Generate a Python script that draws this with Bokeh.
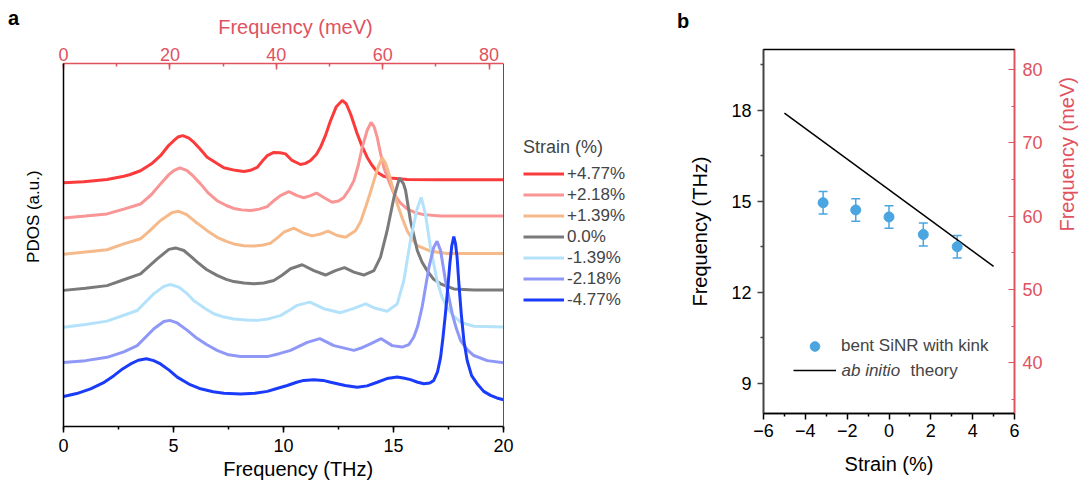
import math
import numpy as np
from bokeh.plotting import figure
from bokeh.models import (Range1d, LinearAxis, FixedTicker, Legend, LegendItem,
                          Label, Whisker, TeeHead, ColumnDataSource, Div, Span)
from bokeh.layouts import row, column
from bokeh.embed import file_html
from bokeh.resources import INLINE

THZ_TO_MEV = 4.1357
FONT = "Liberation Sans"
RED_AXIS = "#e0525e"
PT_BLUE = "#4aa5e0"
NB = "\u00a0"

# ---------------- panel a data ----------------
strain_labels = ["+4.77%", "+2.18%", "+1.39%", "0.0%", "-1.39%", "-2.18%", "-4.77%"]
curve_colors = ["#fb3b3b", "#f99595", "#f5b98a", "#7a7a7a", "#b5e2fb", "#8f98f7", "#1a3cfa"]
stack_offset = [6, 5, 4, 3, 2, 1, 0]

freq_p477 = [0.0, 0.92, 1.98, 2.74, 3.0, 3.5, 4.0, 4.41, 4.75, 5.01, 5.2, 5.42, 5.7, 5.92, 6.2,
             6.53, 7.0, 7.29, 7.8, 8.2, 8.5, 8.8, 9.05, 9.26, 9.56, 9.85, 10.09, 10.39, 10.77,
             11.0, 11.23, 11.5, 11.68, 11.9, 12.14, 12.4, 12.67, 12.85, 13.05, 13.35, 13.55,
             13.8, 14.0, 14.26, 14.55, 14.86, 15.62, 17.0, 20.0]
pdos_p477 = [-0.08, -0.05, 0.01, 0.10, 0.14, 0.25, 0.44, 0.66, 0.92, 1.07, 1.17, 1.21, 1.14, 1.03, 0.85,
             0.62, 0.44, 0.33, 0.26, 0.23, 0.26, 0.34, 0.52, 0.66, 0.75, 0.74, 0.71, 0.53, 0.42,
             0.45, 0.53, 0.70, 0.89, 1.20, 1.62, 2.00, 2.17, 2.08, 1.80, 1.26, 0.95,
             0.62, 0.42, 0.21, 0.10, 0.05, 0.01, 0.0, 0.0]

freq_p218 = [0.0, 1.0, 1.98, 2.74, 3.5, 4.0, 4.41, 4.8, 5.01, 5.29, 5.62, 5.9, 6.23, 6.6, 6.98,
             7.4, 7.74, 8.1, 8.5, 8.9, 9.26, 9.6, 9.86, 10.24, 10.62, 10.92, 11.23, 11.5, 11.83,
             12.21, 12.5, 12.74, 13.0, 13.2, 13.4, 13.58, 13.8, 13.98, 14.12, 14.26, 14.4, 14.56,
             14.8, 15.02, 15.3, 15.62, 16.0, 16.38, 17.14, 20.0]
pdos_p218 = [-0.04, 0.01, 0.07, 0.20, 0.34, 0.60, 0.89, 1.15, 1.25, 1.33, 1.25, 1.10, 0.89, 0.63, 0.43,
             0.30, 0.22, 0.18, 0.16, 0.20, 0.27, 0.45, 0.57, 0.68, 0.57, 0.51, 0.57, 0.64, 0.52,
             0.39, 0.42, 0.52, 0.75, 0.98, 1.40, 1.89, 2.35, 2.57, 2.45, 2.16, 1.75, 1.34,
             0.95, 0.62, 0.38, 0.21, 0.10, 0.05, 0.01, 0.01]

freq_p139 = [0.0, 1.0, 1.98, 2.74, 3.5, 3.9, 4.41, 4.94, 5.24, 5.6, 6.0, 6.23, 6.6, 6.98, 7.4,
             7.74, 8.2, 8.65, 9.0, 9.41, 9.75, 10.02, 10.47, 10.92, 11.3, 11.68, 12.02, 12.44,
             12.82, 13.27, 13.5, 13.73, 13.92, 14.11, 14.3, 14.48, 14.64, 14.79, 14.98, 15.17,
             15.4, 15.62, 15.85, 16.08, 16.68, 17.44, 20.0]
pdos_p139 = [-0.03, 0.03, 0.09, 0.25, 0.39, 0.60, 0.89, 1.11, 1.14, 1.05, 0.85, 0.75, 0.58, 0.43, 0.32,
             0.25, 0.20, 0.19, 0.21, 0.27, 0.43, 0.57, 0.68, 0.54, 0.47, 0.52, 0.60, 0.48,
             0.43, 0.61, 0.85, 1.25, 1.60, 1.98, 2.35, 2.60, 2.45, 2.16, 1.75, 1.34,
             0.95, 0.61, 0.38, 0.20, 0.05, -0.01, -0.01]

freq_0 = [0.0, 1.0, 1.98, 2.74, 3.5, 4.26, 4.79, 5.09, 5.47, 5.8, 6.08, 6.5, 6.98, 7.4, 7.74,
          8.2, 8.65, 9.1, 9.56, 9.95, 10.32, 10.85, 11.38, 11.91, 12.36, 12.77, 13.2, 13.65,
          14.11, 14.41, 14.71, 15.02, 15.27, 15.45, 15.55, 15.77, 16.08, 16.3, 16.53, 16.8,
          17.14, 17.74, 18.65, 20.0]
pdos_0 = [-0.02, 0.04, 0.11, 0.27, 0.43, 0.84, 1.10, 1.14, 1.07, 0.90, 0.75, 0.55, 0.39, 0.28, 0.22,
          0.18, 0.16, 0.18, 0.25, 0.40, 0.57, 0.68, 0.52, 0.40, 0.52, 0.60, 0.48, 0.40,
          0.52, 0.89, 1.61, 2.52, 3.05, 2.90, 2.71, 1.89, 1.07, 0.75, 0.52, 0.30,
          0.16, 0.02, -0.01, -0.01]

freq_m139 = [0.0, 1.0, 1.98, 2.74, 3.35, 4.11, 4.56, 4.86, 5.24, 5.6, 5.92, 6.4, 6.83, 7.3, 7.74,
             8.3, 8.8, 9.3, 9.86, 10.3, 10.62, 11.2, 11.83, 12.59, 13.2, 13.73, 14.18, 14.71,
             15.17, 15.47, 15.77, 16.05, 16.26, 16.45, 16.68, 16.98, 17.2, 17.44, 17.7, 18.05,
             18.65, 20.0]
pdos_m139 = [-0.03, 0.05, 0.14, 0.30, 0.43, 0.89, 1.09, 1.14, 1.07, 0.90, 0.70, 0.50, 0.34, 0.25, 0.20,
             0.17, 0.16, 0.20, 0.29, 0.45, 0.57, 0.66, 0.48, 0.37, 0.49, 0.61, 0.49, 0.41,
             0.61, 1.25, 2.34, 3.16, 3.52, 3.07, 2.16, 1.25, 0.80, 0.52, 0.30, 0.11,
             0.0, -0.02]

freq_m218 = [0.0, 1.0, 1.98, 2.74, 3.35, 4.11, 4.56, 4.83, 5.17, 5.6, 6.0, 6.5, 6.98, 7.5, 8.05,
             9.26, 9.8, 10.32, 10.7, 11.08, 11.65, 12.29, 13.2, 13.6, 13.95, 14.44, 14.94, 15.39,
             15.7, 15.92, 16.1, 16.3, 16.61, 16.83, 16.98, 17.14, 17.36, 17.67, 17.85, 18.05,
             18.35, 18.65, 19.26, 20.0]
pdos_m218 = [0.01, 0.06, 0.15, 0.30, 0.47, 0.93, 1.13, 1.16, 1.09, 0.90, 0.70, 0.50, 0.34, 0.22, 0.17,
             0.17, 0.25, 0.34, 0.45, 0.56, 0.66, 0.47, 0.34, 0.42, 0.52, 0.66, 0.47, 0.43,
             0.50, 0.70, 1.00, 1.52, 2.61, 3.16, 3.32, 3.07, 2.25, 1.34, 0.95, 0.61,
             0.36, 0.20, 0.06, 0.0]

freq_m477 = [0.0, 0.6, 1.23, 1.8, 2.29, 2.7, 3.05, 3.4, 3.77, 4.1, 4.41, 4.8, 5.17, 5.7, 6.23,
             6.8, 7.29, 8.05, 8.7, 9.26, 9.7, 10.17, 10.6, 10.92, 11.38, 11.8, 12.14, 12.8,
             13.35, 13.8, 14.26, 14.7, 15.17, 15.5, 15.77, 16.1, 16.38, 16.65, 16.83, 17.0,
             17.14, 17.25, 17.36, 17.46, 17.56, 17.65, 17.74, 17.82, 17.89, 17.98, 18.08, 18.2,
             18.35, 18.55, 18.8, 19.1, 19.41, 19.7, 20.0]
pdos_m477 = [0.08, 0.16, 0.29, 0.45, 0.65, 0.84, 0.97, 1.07, 1.11, 1.06, 0.97, 0.80, 0.61, 0.42, 0.29,
             0.21, 0.17, 0.15, 0.17, 0.22, 0.30, 0.38, 0.47, 0.52, 0.54, 0.52, 0.47, 0.38,
             0.33, 0.37, 0.47, 0.57, 0.61, 0.58, 0.54, 0.47, 0.43, 0.45, 0.52, 0.75,
             1.15, 1.70, 2.34, 3.00, 3.70, 4.20, 4.45, 4.25, 3.89, 3.10, 2.34, 1.60,
             1.06, 0.65, 0.43, 0.22, 0.11, 0.04, -0.01]

curves_freq = [freq_p477, freq_p218, freq_p139, freq_0, freq_m139, freq_m218, freq_m477]
curves_pdos = [pdos_p477, pdos_p218, pdos_p139, pdos_0, pdos_m139, pdos_m218, pdos_m477]

# ---------------- panel b data ----------------
strain_exp = [-3.15, -1.59, 0.0, 1.64, 3.26]
freq_exp = [14.95, 14.71, 14.48, 13.90, 13.50]
freq_err = [0.37, 0.37, 0.37, 0.38, 0.37]
strain_theory = [-5.0, 5.0]
freq_theory = [17.9, 12.85]

H = 482
# panel a frame spans 0..20 THz over 440 px; it is widened to host the legend
A_FRAME_RIGHT_EXTRA = 135  # px beyond 20 THz
X_END = 20.0 * (440 + A_FRAME_RIGHT_EXTRA) / 440.0


def style_axis(ax, color="black", size="18px", tick_in=0, tick_out=6, line_width=1.5):
    ax.axis_line_color = color
    ax.axis_line_width = line_width
    ax.major_tick_line_color = color
    ax.minor_tick_line_color = color
    ax.major_tick_line_width = line_width
    ax.minor_tick_line_width = line_width
    ax.major_tick_in = tick_in
    ax.major_tick_out = tick_out
    ax.minor_tick_in = tick_in // 2
    ax.minor_tick_out = tick_out // 2
    ax.major_label_text_color = color
    ax.major_label_text_font = FONT
    ax.major_label_text_font_size = size
    ax.axis_label_text_font = FONT
    ax.axis_label_text_font_size = "20px"
    ax.axis_label_text_font_style = "normal"
    ax.axis_label_text_color = color


def panel_letter(letter, top, left, height):
    return Div(text=letter, width=12, height=height, margin=(top, 0, 0, left),
               styles={"font-family": FONT, "font-size": "20px", "font-weight": "bold",
                       "line-height": "1", "color": "black"})


# ---------------- panel a ----------------
pa = figure(width=630, height=H, x_range=Range1d(0, X_END), y_range=Range1d(-0.74, 9.18),
            output_backend="svg", toolbar_location=None,
            min_border_left=43, min_border_right=630 - 43 - 440 - A_FRAME_RIGHT_EXTRA,
            min_border_top=63, min_border_bottom=H - 426)
pa.xgrid.visible = False
pa.ygrid.visible = False
pa.outline_line_color = None
pa.extra_x_ranges = {"mev": Range1d(0, X_END * THZ_TO_MEV)}

style_axis(pa.xaxis[0])
pa.xaxis.ticker = FixedTicker(ticks=[0, 5, 10, 15, 20], minor_ticks=[2.5 * i for i in range(9)])
pa.xaxis.bounds = (0, 20)
pa.xaxis.major_label_standoff = 6
pa.xaxis.axis_label = "Frequency (THz)" + NB * 19
pa.xaxis.axis_label_standoff = 3

pa.yaxis.ticker = FixedTicker(ticks=[], minor_ticks=[])
style_axis(pa.yaxis[0], tick_out=0)
pa.yaxis.major_label_standoff = 0
pa.yaxis.axis_label = NB * 12 + "PDOS (a.u.)"
pa.yaxis.axis_label_text_font_size = "17px"
pa.yaxis.axis_label_standoff = 21

top_ax = LinearAxis(x_range_name="mev",
                    ticker=FixedTicker(ticks=[0, 20, 40, 60, 80], minor_ticks=list(range(0, 90, 10))))
style_axis(top_ax, color=RED_AXIS, tick_in=6, tick_out=0)
top_ax.bounds = (0, 20 * THZ_TO_MEV)
top_ax.major_label_standoff = 3
top_ax.axis_label = "Frequency (meV)" + NB * 20
top_ax.axis_label_standoff = 7
pa.add_layout(top_ax, "above")
pa.add_layout(Span(location=20, dimension="height", line_color="#555555", line_width=1))

renderers = []
for fx, fy, off, col in zip(curves_freq, curves_pdos, stack_offset, curve_colors):
    r = pa.line(fx, np.asarray(fy) + off, line_color=col, line_width=3)
    renderers.append(r)

leg_a = Legend(items=[LegendItem(label=lab, renderers=[r]) for lab, r in zip(strain_labels, renderers)],
               location=(460, 116), title="Strain (%)", title_text_font=FONT,
               title_text_font_size="18px", title_text_font_style="normal", title_standoff=5,
               label_text_font=FONT, label_text_font_size="17px", glyph_width=41, glyph_height=21,
               label_height=21, spacing=0, padding=0, margin=0, label_standoff=3,
               border_line_color=None, background_fill_alpha=0)
pa.add_layout(leg_a)

# ---------------- panel b ----------------
PB_W = 441
LETTER_B_TOP, LETTER_B_H = 11, 18
PB_Y0 = LETTER_B_TOP + LETTER_B_H
PB_H = H - PB_Y0
pb = figure(width=PB_W, height=PB_H, x_range=Range1d(-6, 6), y_range=Range1d(8, 20),
            output_backend="svg", toolbar_location=None, title=None,
            min_border_left=113, min_border_right=PB_W - 113 - 265,
            min_border_top=49 - PB_Y0, min_border_bottom=H - 413)
pb.xgrid.visible = False
pb.ygrid.visible = False
pb.outline_line_color = "black"
pb.outline_line_width = 1.5
pb.extra_y_ranges = {"mev": Range1d(8 * THZ_TO_MEV, 20 * THZ_TO_MEV)}

style_axis(pb.xaxis[0])
pb.xaxis.ticker = FixedTicker(ticks=[-6, -4, -2, 0, 2, 4, 6], minor_ticks=[-5, -3, -1, 1, 3, 5])
pb.xaxis.major_label_overrides = {-6: "\u22126", -4: "\u22124", -2: "\u22122", 0: "0", 2: "2", 4: "4", 6: "6"}
pb.xaxis.major_label_standoff = 4
pb.xaxis.axis_label = "Strain (%)"
pb.xaxis.axis_label_standoff = 13

style_axis(pb.yaxis[0], color="#444444")
pb.yaxis.major_label_text_color = "black"
pb.yaxis.axis_label_text_color = "black"
pb.yaxis.ticker = FixedTicker(ticks=[9, 12, 15, 18], minor_ticks=[7.5, 10.5, 13.5, 16.5, 19.5])
pb.yaxis.major_label_standoff = 6
pb.yaxis.axis_label = "Frequency (THz)"
pb.yaxis.axis_label_standoff = 17

right_ax = LinearAxis(y_range_name="mev",
                      ticker=FixedTicker(ticks=[40, 50, 60, 70, 80], minor_ticks=[35, 45, 55, 65, 75, 85]))
style_axis(right_ax, color=RED_AXIS, tick_in=6, tick_out=0, line_width=1)
right_ax.major_label_standoff = 8
right_ax.axis_label = "Frequency (meV)"
right_ax.axis_label_standoff = 21
try:
    right_ax.axis_label_orientation = math.pi / 2
except Exception:
    pass
pb.add_layout(right_ax, "right")

theory = pb.line(strain_theory, freq_theory, line_color="black", line_width=1.5)
err_src = ColumnDataSource(dict(x=strain_exp,
                                upper=[f + e for f, e in zip(freq_exp, freq_err)],
                                lower=[f - e for f, e in zip(freq_exp, freq_err)]))
pb.add_layout(Whisker(source=err_src, base="x", upper="upper", lower="lower",
                      line_color=PT_BLUE, line_width=1.5,
                      upper_head=TeeHead(size=9, line_color=PT_BLUE, line_width=1.5),
                      lower_head=TeeHead(size=9, line_color=PT_BLUE, line_width=1.5)))
pts = pb.scatter(strain_exp, freq_exp, marker="circle", size=10, fill_color=PT_BLUE, line_color=PT_BLUE)

leg_b = Legend(items=[LegendItem(label="bent SiNR with kink", renderers=[pts]),
                      LegendItem(label="", renderers=[theory])],
               location=(30, 31), label_text_font=FONT, label_text_font_size="17px",
               glyph_width=43, glyph_height=24, label_height=24, spacing=0, padding=0, margin=0,
               label_standoff=5, border_line_color=None, background_fill_alpha=0)
pb.add_layout(leg_b)
for txt, xs, style in [("ab initio", 78, "italic"), ("theory", 147, "normal")]:
    pb.add_layout(Label(x=xs, y=43, x_units="screen", y_units="screen", text=txt,
                        text_font=FONT, text_font_size="17px", text_font_style=style,
                        text_align="left", text_baseline="middle"))

layout = row(panel_letter("a", 8, 8, 28), pa,
             column(panel_letter("b", LETTER_B_TOP, 27, LETTER_B_H), pb))
open("out.html", "w").write(file_html(layout, INLINE))
